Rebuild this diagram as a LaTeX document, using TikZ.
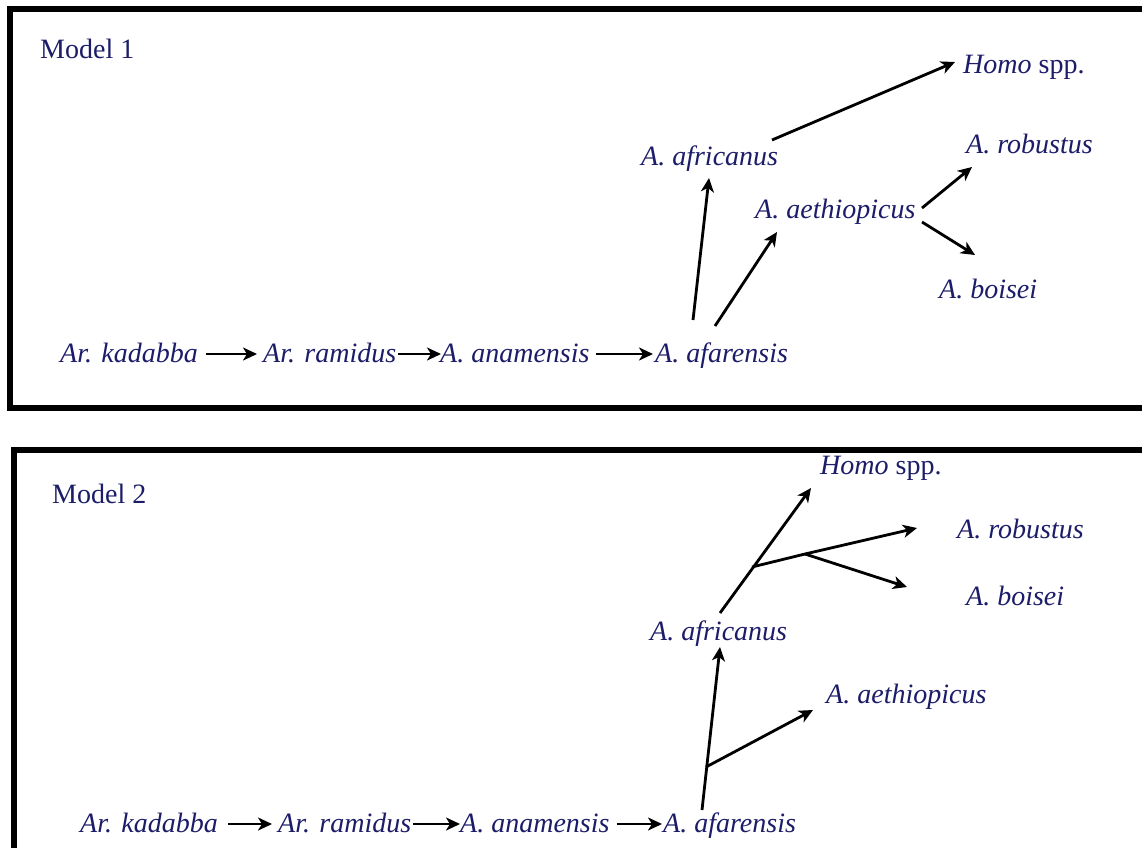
\documentclass[tikz,border=0pt]{standalone}
\usepackage{fontspec}
\setmainfont{Liberation Serif}
\usetikzlibrary{arrows.meta,calc}
\definecolor{taxon}{RGB}{28,28,105}
\begin{document}
\begin{tikzpicture}[x=1pt,y=-1pt,
  lbl/.style={anchor=base west,inner sep=0pt,text=taxon,font=\fontsize{28}{32}\selectfont\itshape},
  title/.style={anchor=base west,inner sep=0pt,text=taxon,font=\fontsize{28}{32}\selectfont},
  link/.style={line width=2.8pt,-{Stealth[length=14pt,width=13pt,inset=4pt]}},
  stem/.style={line width=2.8pt},
  frame/.style={line width=6pt}]
\useasboundingbox (0,0) rectangle (1142,847);
\clip (0,0) rectangle (1142,847);
\fill[white] (0,0) rectangle (1142,847);

% ---------- Model 1 ----------
\draw[frame] (10,9) rectangle (1170,408);
\node[title] (m1) at (40,58) {Model 1};
\node[lbl] (homo1) at (963,73) {Homo \upshape spp.};
\node[lbl] (afr1) at (641,165) {A. africanus};
\node[lbl] (aet1) at (755,218) {A. aethiopicus};
\node[lbl] (rob1) at (966,153) {A. robustus};
\node[lbl] (boi1) at (939,298) {A. boisei};
\node[lbl] (kad1) at (60,362) {Ar. kadabba};
\node[lbl] (ram1) at (263,362) {Ar. ramidus};
\node[lbl] (ana1) at (440,362) {A. anamensis};
\node[lbl] (afa1) at (655,362) {A. afarensis};

\draw[link] ($(kad1.base east)+(8,-8)$) -- ($(ram1.base west)+(-6,-8)$);
\draw[link] ($(ram1.base east)+(2,-8)$) -- ($(ana1.base west)+(1,-8)$);
\draw[link] ($(ana1.base east)+(6,-8)$) -- ($(afa1.base west)+(-2,-8)$);
\draw[link] ($(afa1.base west)+(38,-42)$) -- ($(afr1.base west)+(68,13)$);
\draw[link] ($(afa1.base west)+(60,-36)$) -- ($(aet1.base west)+(22,14)$);
\draw[link] ($(afr1.base west)+(131,-25)$) -- ($(homo1.base west)+(-8,-11)$);
\draw[link] ($(aet1.base west)+(167,-10)$) -- ($(rob1.base west)+(6,14)$);
\draw[link] ($(aet1.base west)+(167,4)$) -- ($(boi1.base west)+(36,-43)$);

% ---------- Model 2 ----------
\draw[frame] (14,450) rectangle (1170,880);
\node[title] (m2) at (52,503) {Model 2};
\node[lbl] (homo2) at (820,474) {Homo \upshape spp.};
\node[lbl] (rob2) at (957,538) {A. robustus};
\node[lbl] (boi2) at (966,605) {A. boisei};
\node[lbl] (afr2) at (650,640) {A. africanus};
\node[lbl] (aet2) at (826,703) {A. aethiopicus};
\node[lbl] (kad2) at (80,832) {Ar. kadabba};
\node[lbl] (ram2) at (278,832) {Ar. ramidus};
\node[lbl] (ana2) at (460,832) {A. anamensis};
\node[lbl] (afa2) at (663,832) {A. afarensis};

\draw[link] ($(kad2.base east)+(10,-8)$) -- ($(ram2.base west)+(-6,-8)$);
\draw[link] ($(ram2.base east)+(2,-8)$) -- ($(ana2.base west)+(0,-8)$);
\draw[link] ($(ana2.base east)+(7,-8)$) -- ($(afa2.base west)+(-1,-8)$);

% trunk from A. afarensis with the side branch to A. aethiopicus
\coordinate (b1) at (706,767);
\draw[link] ($(afa2.base west)+(39,-22)$) -- ($(afr2.base west)+(70,7)$);
\draw[link] (b1) -- ($(aet2.base west)+(-13,7)$);

% trunk from A. africanus with the robust branch
\coordinate (b2) at (752,567);
\coordinate (b3) at (805,554);
\draw[link] ($(afr2.base west)+(70,-27)$) -- ($(homo2.base west)+(-9,14)$);
\draw[stem] (b2) -- (b3);
\draw[link] (b3) -- ($(rob2.base west)+(-40,-10)$);
\draw[link] (b3) -- ($(boi2.base west)+(-59,-18)$);
\end{tikzpicture}
\end{document}
